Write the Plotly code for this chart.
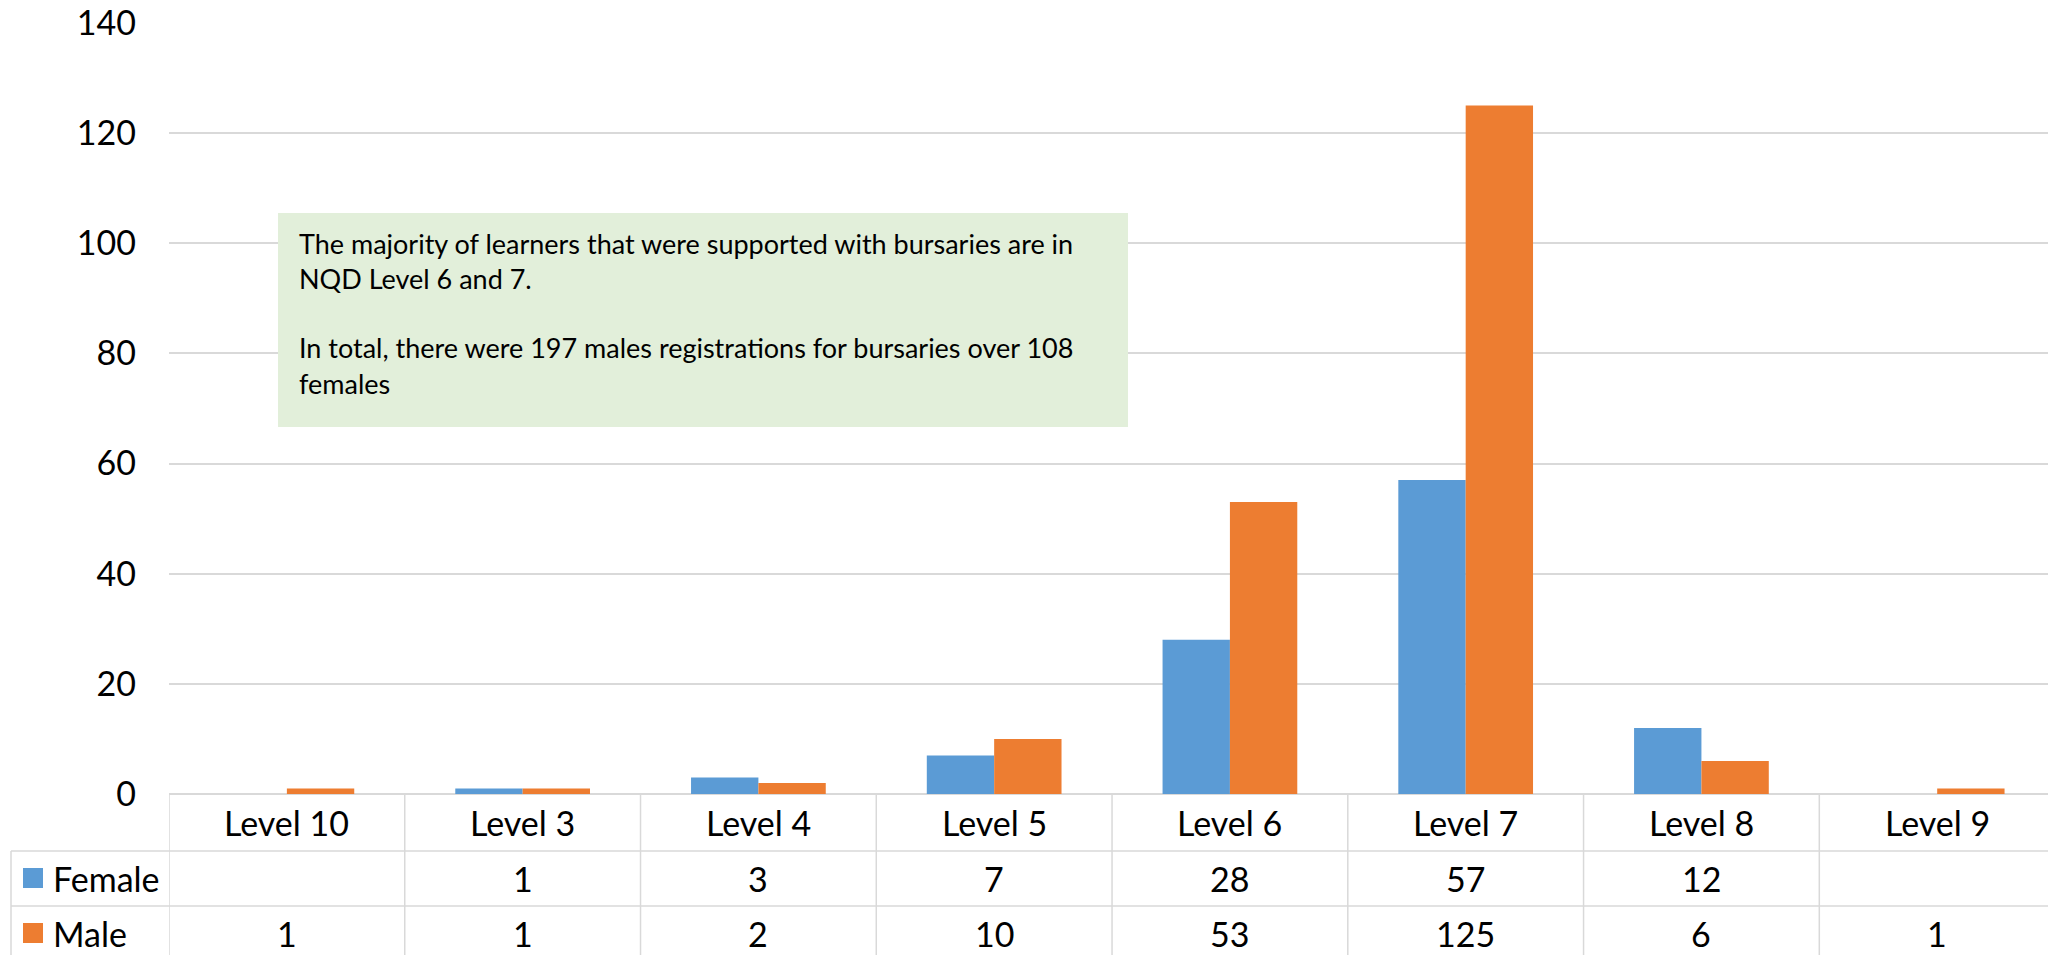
import plotly.graph_objects as go

levels = ["Level 10", "Level 3", "Level 4", "Level 5", "Level 6", "Level 7", "Level 8", "Level 9"]
female = [None, 1, 3, 7, 28, 57, 12, None]
male = [1, 1, 2, 10, 53, 125, 6, 1]
y_ticks = [0, 20, 40, 60, 80, 100, 120, 140]
series_names = ["Female", "Male"]
series_colors = ["#5B9BD5", "#ED7D31"]
note_lines = [
    "The majority of learners that were supported with bursaries are in",
    "NQD Level 6 and 7.",
    "",
    "In total, there were 197 males registrations for bursaries over 108",
    "females",
]

# page / plot area in pixels
W, H = 2048, 955
L, R, T, B = 169, 0, 23, 161
PW, PH = W - L - R, H - T - B


def px(x):
    return (x - L) / PW


def py(y):
    return (H - B - y) / PH


GRID = "#d9d9d9"
FONT = "Lato"
FS = 34

fig = go.Figure()
for name, vals, col in zip(series_names, [female, male], series_colors):
    fig.add_trace(go.Bar(x=levels, y=vals, name=name, marker_color=col, marker_line_width=0))

shapes = []
annotations = []

# data table grid
for i in range(len(levels) + 1):
    shapes.append(dict(type="line", xref="x", yref="paper", x0=i - 0.5, x1=i - 0.5,
                       y0=py(794), y1=py(H), line=dict(color=GRID, width=1.5)))
for yy in [851, 906]:
    shapes.append(dict(type="line", xref="paper", yref="paper", x0=px(11), x1=1,
                       y0=py(yy), y1=py(yy), line=dict(color=GRID, width=1.5)))
shapes.append(dict(type="line", xref="paper", yref="paper", x0=px(11), x1=px(11),
                   y0=py(851), y1=py(H), line=dict(color=GRID, width=1.5)))

# header row and values
for lv in levels:
    annotations.append(dict(x=lv, xref="x", y=py(822), yref="paper", yanchor="middle",
                            text=lv, showarrow=False, font=dict(size=FS)))
row_y = [878, 933]
for vals, ry in zip([female, male], row_y):
    for lv, v in zip(levels, vals):
        if v is None:
            continue
        annotations.append(dict(x=lv, xref="x", y=py(ry), yref="paper", yanchor="middle",
                                text=str(v), showarrow=False, font=dict(size=FS)))

# legend keys in the table
for name, col, ry in zip(series_names, series_colors, row_y):
    shapes.append(dict(type="rect", xref="paper", yref="paper", x0=px(23), x1=px(43),
                       y0=py(ry - 10), y1=py(ry + 10), fillcolor=col, line_width=0))
    annotations.append(dict(x=px(51), xref="paper", xanchor="left", y=py(ry), yref="paper",
                            yanchor="middle", text=name, showarrow=False, font=dict(size=FS)))

# note box
shapes.append(dict(type="rect", xref="paper", yref="paper", x0=px(278), x1=px(1128),
                   y0=py(427), y1=py(213), fillcolor="#E2EFDA", line_width=0, layer="above"))
for k, line in enumerate(note_lines):
    if not line:
        continue
    annotations.append(dict(x=px(297), xref="paper", xanchor="left", y=py(243 + 35 * k),
                            yref="paper", yanchor="middle", text=line, showarrow=False,
                            font=dict(size=27)))

fig.update_layout(
    width=W, height=H,
    margin=dict(l=L, r=R, t=T, b=B),
    plot_bgcolor="white", paper_bgcolor="white",
    font=dict(family=FONT, size=FS, color="#000000"),
    showlegend=False,
    barmode="group", bargap=1.5 / 3.5, bargroupgap=0,
    shapes=shapes, annotations=annotations,
)
fig.update_xaxes(type="category", range=[-0.5, 7.47], showticklabels=False,
                 showgrid=False, zeroline=False, showline=False)
fig.update_yaxes(range=[0, 140], tickvals=y_ticks, gridcolor=GRID, gridwidth=1.5,
                 zeroline=True, zerolinecolor=GRID, zerolinewidth=1.5, showline=False,
                 ticklabelstandoff=32, tickfont=dict(size=FS))

fig.write_html("out.html", config={"displayModeBar": False},
               post_script="document.body.style.margin='0';")
